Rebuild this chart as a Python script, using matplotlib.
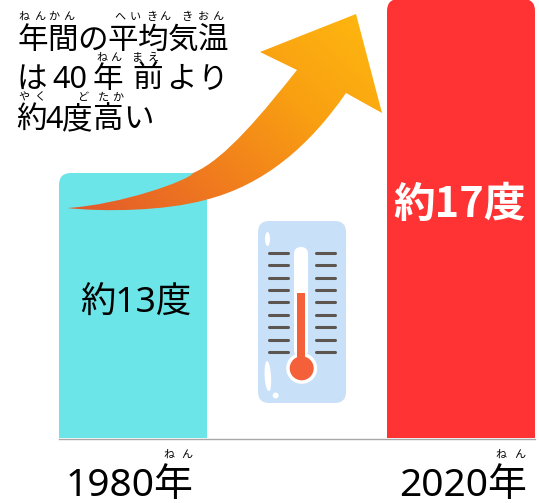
import numpy as np
import matplotlib.pyplot as plt
from matplotlib.patches import FancyBboxPatch, Circle, Ellipse, PathPatch, Rectangle
from matplotlib.path import Path
from matplotlib.colors import LinearSegmentedColormap

plt.rcParams['font.family'] = ['Noto Sans', 'Noto Sans CJK JP', 'DejaVu Sans']

years = ['1980', '2020']
temps = [13, 17]
bar_colors = ['#6CE5E8', '#FF3333']
year_suffix = '年'
ruby_year = 'ねん'
title_line1 = '年間の平均気温'
title_line2 = ['は', '40', '年', '前', 'よ', 'り']
title_line3 = '約4度高い'
ruby_line1 = 'ねんかんへいきんきおん'
ruby_line2 = 'ねんまえ'
ruby_line3 = 'やくどたか'

W, H = 539, 503
fig = plt.figure(figsize=(W / 100, H / 100), dpi=100)

# bars, own axes: the y axis starts well above zero like in the picture
ax = fig.add_axes([59 / W, 1 - 438 / H, 476 / W, 438 / H])
ax.set_xlim(-0.2256, 1.2256)
ax.set_ylim(6.87, 17)
ax.axis('off')
bars = ax.bar([0, 1], temps, width=0.451, color=bar_colors, bottom=0)

# overlay in pixel coordinates for the decoration
ov = fig.add_axes([0, 0, 1, 1], zorder=5)
ov.set_xlim(0, W)
ov.set_ylim(H, 0)
ov.axis('off')
ov.patch.set_alpha(0)

# round the top corners of the bars
for bar, left, top in zip(bars, [59, 387], [173, -1]):
    clip = FancyBboxPatch((left, top), 148, 480, boxstyle='round,pad=0,rounding_size=12',
                          transform=ov.transData, fc='none', ec='none')
    bar.set_clip_path(clip)

ov.plot([59, 535], [438.5, 438.5], color='#A8A8A8', lw=1)

# arrow with gradient
verts = [(67, 208),
         (120, 205), (190, 180), (193, 173),
         (225, 160), (265, 110), (297, 70),
         (260, 52), (356, 14), (382, 113), (346, 93),
         (310, 145), (265, 185), (205, 200),
         (165, 211), (105, 212), (67, 208)]
codes = [Path.MOVETO,
         Path.CURVE4, Path.CURVE4, Path.CURVE4,
         Path.CURVE4, Path.CURVE4, Path.CURVE4,
         Path.LINETO, Path.LINETO, Path.LINETO, Path.LINETO,
         Path.CURVE4, Path.CURVE4, Path.CURVE4,
         Path.CURVE4, Path.CURVE4, Path.CURVE4]
arrow = PathPatch(Path(verts, codes), fc='none', ec='none', transform=ov.transData)
ov.add_patch(arrow)
cmap = LinearSegmentedColormap.from_list('arrow', ['#E2582C', '#F07A1E', '#F9A012', '#FFB90F'])
gx, gy = np.meshgrid(np.linspace(0, 1, 200), np.linspace(1, 0, 200))
im = ov.imshow(0.6 * gx + 0.4 * gy, extent=[67, 382, 212, 14], cmap=cmap, aspect='auto', zorder=3)
im.set_clip_path(arrow)
ov.set_xlim(0, W)
ov.set_ylim(H, 0)

# thermometer
ov.add_patch(FancyBboxPatch((258, 221), 88, 182, boxstyle='round,pad=0,rounding_size=11',
                            fc='#C8E0F8', ec='none', zorder=2))
for y in [252.7, 265, 277.7, 290, 302.3, 315, 327.3, 339.7, 352]:
    ov.plot([269, 288], [y, y], color='#5C5550', lw=2.2, solid_capstyle='round', zorder=3)
    ov.plot([316, 335], [y, y], color='#5C5550', lw=2.2, solid_capstyle='round', zorder=3)
ov.add_patch(FancyBboxPatch((294, 247), 14, 110, boxstyle='round,pad=0,rounding_size=7',
                            fc='white', ec='none', zorder=3))
ov.add_patch(Circle((301.7, 368.3), 15.5, fc='white', ec='none', zorder=3))
ov.add_patch(Rectangle((297, 292.7), 7.7, 70, fc='#F4603A', ec='none', zorder=4))
ov.add_patch(Circle((301.7, 368.3), 12, fc='#F4603A', ec='none', zorder=4))
ov.add_patch(Ellipse((267.5, 239), 5, 14, fc='white', ec='none', zorder=3))
shine = Path([(267, 361), (263, 362), (264, 391), (269, 391), (273, 391), (271, 361), (267, 361)],
             [Path.MOVETO, Path.CURVE4, Path.CURVE4, Path.CURVE4, Path.CURVE4, Path.CURVE4, Path.CURVE4])
ov.add_patch(PathPatch(shine, fc='white', ec='none', zorder=3))
ov.add_patch(Circle((275.7, 395.5), 3, fc='white', ec='none', zorder=3))

# title text
big = 22
for i, ch in enumerate(title_line1):
    ov.text(33 + i * 30, 40.5, ch, fontsize=big, ha='center', va='center', zorder=6)
for s, x in zip(title_line2, [32, 70, 108, 148, 181, 213]):
    ov.text(x, 80, s, fontsize=big, ha='center', va='center', zorder=6)
for s, x in zip(title_line3, [31, 54, 77, 107, 138]):
    ov.text(x, 120, s, fontsize=big, ha='center', va='center', zorder=6)

# furigana
small = 8
for ch, x in zip(ruby_line1, [24, 40, 54, 69, 120, 135, 152, 165, 187, 203, 218]):
    ov.text(x, 17, ch, fontsize=small, ha='center', va='center', zorder=6)
for ch, x in zip(ruby_line2, [102, 116, 138, 153]):
    ov.text(x, 58, ch, fontsize=small, ha='center', va='center', zorder=6)
for ch, x in zip(ruby_line3, [24, 40, 83, 103, 118]):
    ov.text(x, 98, ch, fontsize=small, ha='center', va='center', zorder=6)

# bar labels
ov.text(136, 304, '約%d度' % temps[0], fontsize=25.5, color='black',
        ha='center', va='center', zorder=6)
ov.text(460, 205, '約%d度' % temps[1], fontsize=30, color='white', fontweight='bold',
        family=['Noto Sans CJK JP'], ha='center', va='center', zorder=6)

# year labels
for year, cx, rx in zip(years, [130, 463], [(169, 187), (501, 520)]):
    ov.text(cx, 486, year + year_suffix, fontsize=28, ha='center', va='center', zorder=6)
    for ch, x in zip(ruby_year, rx):
        ov.text(x, 455, ch, fontsize=small, ha='center', va='center', zorder=6)

fig.savefig('out.png', dpi=100)
